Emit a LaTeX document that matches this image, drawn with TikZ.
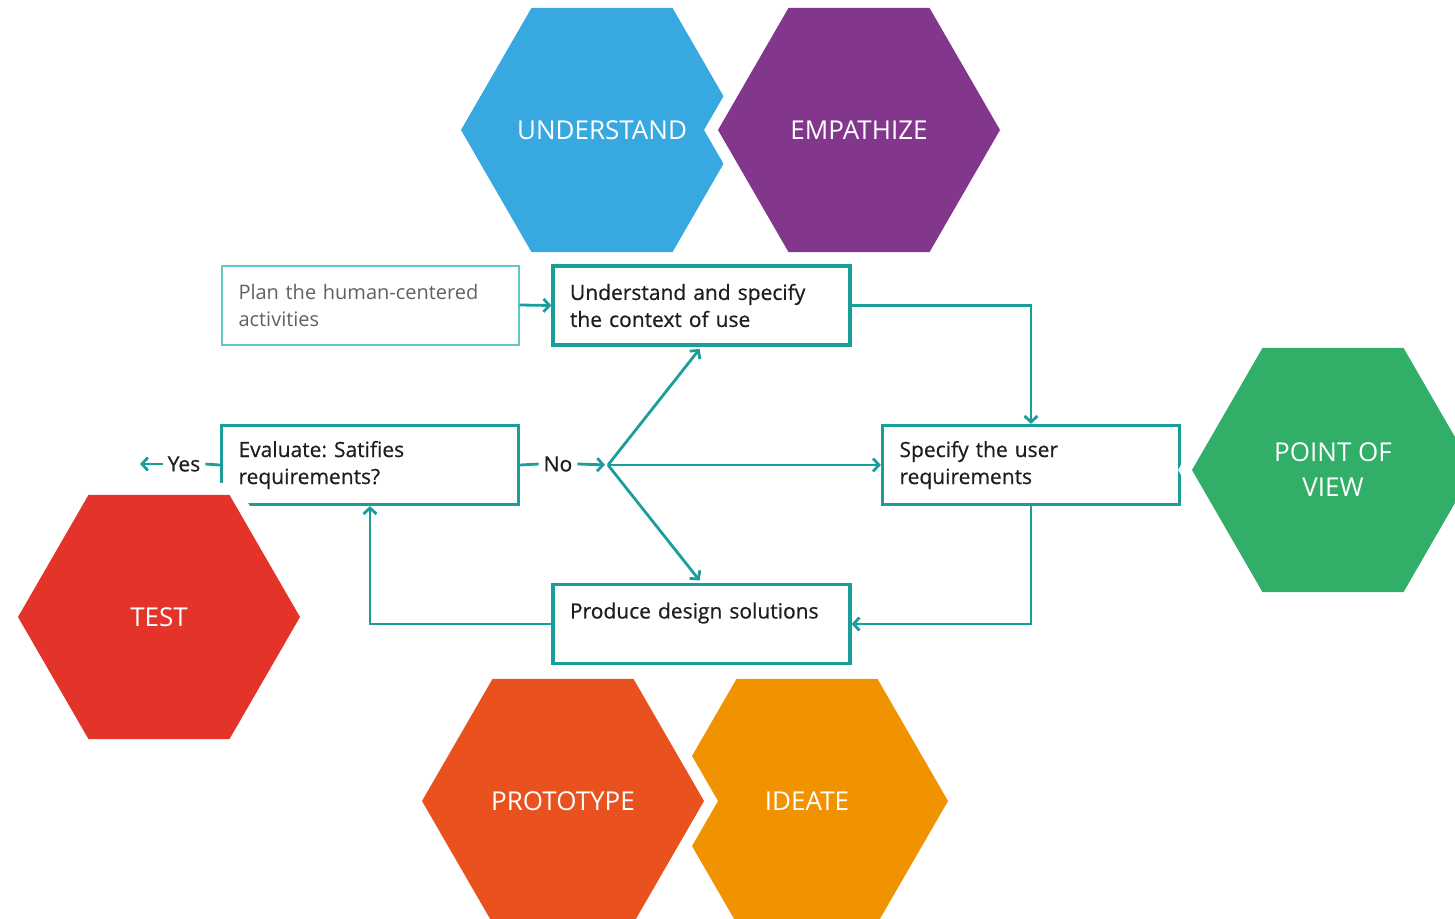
\documentclass[tikz,border=0pt]{standalone}
\usepackage{fontspec}
\setmainfont{Open Sans}
\newfontfamily\stepfont[FakeBold=0.6]{Open Sans}
\usetikzlibrary{arrows.meta}
\usetikzlibrary{shapes.geometric}

\definecolor{hcdteal}{HTML}{1A9E9B}
\definecolor{hcdlight}{HTML}{62C6C6}
\definecolor{boxtext}{HTML}{1E1E1E}
\definecolor{hexblue}{HTML}{38A9E0}
\definecolor{hexpurple}{HTML}{82368C}
\definecolor{hexgreen}{HTML}{31AE68}
\definecolor{hexred}{HTML}{E43329}
\definecolor{hexorange}{HTML}{E9511E}
\definecolor{hexamber}{HTML}{F19300}
\newcommand\boxfont{\stepfont\fontsize{21}{27}\selectfont\frenchspacing}
\def\hexSize{282pt}

\begin{document}
\begin{tikzpicture}[
    x=1pt, y=-1pt,
    hexcell/.style={
      regular polygon, regular polygon sides=6,
      minimum size=\hexSize, inner sep=0pt,
      preaction={draw=white, line width=24pt},
      text=white, align=center,
      font=\fontsize{26}{35}\selectfont
    },
    stepbox/.style={
      draw=hcdteal, line width=3.2pt, inner sep=0pt,
      minimum width=297pt, minimum height=79pt,
      text width=263pt, align=left, text=boxtext, font=\boxfont
    },
    planbox/.style={
      stepbox, draw=hcdlight, line width=2pt, text=black!62,
      font=\fontsize{20}{27}\selectfont
    },
    flow/.style={
      draw=hcdteal, line width=2.8pt,
      -{Straight Barb[length=6pt,width=13pt]}
    },
    plainline/.style={draw=hcdteal, line width=2.8pt},
    answer/.style={text=boxtext, font=\boxfont, inner sep=5pt}
  ]
    \useasboundingbox (0,0) rectangle (1455,918);
    \clip (0,0) rectangle (1455,918);

    % design thinking phases, back row
    \node[hexcell, fill=hexblue] (understand) at (602,130) {UNDERSTAND};
    \node[hexcell, fill=hexpurple] (empathize) at (859,130) {EMPATHIZE};
    \node[hexcell, fill=hexamber] (ideate) at (807,801) {IDEATE};
    \node[hexcell, fill=hexorange] (prototype) at (563,801) {PROTOTYPE};

    % human-centred design steps
    \node[planbox] (plan) at (370,305) {Plan the human-centered\\activities};
    \node[stepbox] (context) at (701.5,305.5) {Understand and specify\\the context of use};
    \node[stepbox] (userreq) at (1031,465) {Specify the user\\requirements};
    \node[stepbox] (evaluate) at (370,465) {Evaluate: Satifies\\requirements?};
    \node[stepbox] (produce) at (701.5,624) {Produce design solutions\\\mbox{}};

    \node[answer] (no) at (558,464) {No};
    \node[answer] (yes) at (184,464) {Yes};
    \coordinate (branch) at (608,465);
    \coordinate (yesend) at (140,464);

    \draw[flow] (plan.east) -- (context.west);
    \draw[flow] (context.east) -| (userreq.north);
    \draw[flow] (userreq.south) |- (produce.east);
    \draw[flow] (produce.west) -| (evaluate.south);
    \draw[plainline] (evaluate.east) -- (no.west);
    \draw[flow, shorten >=3pt] (no.east) -- (branch);
    \draw[flow, shorten >=3pt] (branch) -- (context.south);
    \draw[flow] (branch) -- (userreq.west);
    \draw[flow, shorten >=3pt] (branch) -- (produce.north);
    \draw[plainline] (evaluate.west) -- (yes.east);
    \draw[flow] (yes.west) -- (yesend);

    % phases laid over the steps
    \node[hexcell, fill=hexgreen] (pov) at (1333,470) {POINT OF\\VIEW};
    \node[hexcell, fill=hexred] (test) at (159,617) {TEST};
  \end{tikzpicture}
\end{document}
